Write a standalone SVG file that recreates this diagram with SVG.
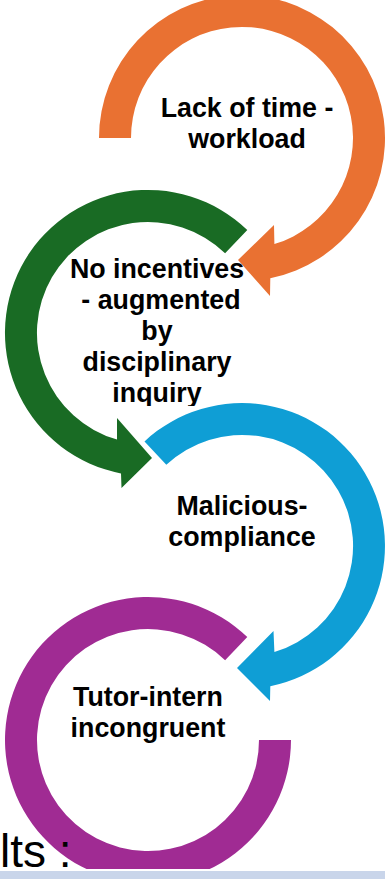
<svg xmlns="http://www.w3.org/2000/svg" width="385" height="879" viewBox="0 0 385 879">
<style>
.lbl{font-family:"Liberation Sans",Arial,sans-serif;font-weight:700;font-size:26.8px;fill:#000;text-anchor:middle}
.foot{font-family:"Liberation Sans",Arial,sans-serif;font-size:46px;fill:#000}
</style>
<defs>
<clipPath id="clipGreen"><rect x="0" y="240" width="300" height="166"/></clipPath>
</defs>
<rect width="385" height="879" fill="#fff"/>
<g id="node-lack-of-time">
<path d="M 99 138 A 143 143 0 1 1 270.3 278.2 L 270 296 L 238 260 L 274 225 L 274.4 244.1 A 111 111 0 1 0 131 138 Z" fill="#E97132"/>
<text class="lbl" x="247" y="117">Lack of time -</text>
<text class="lbl" x="247" y="148">workload</text>
</g>
<g id="node-no-incentives">
<path d="M 247.3 230.1 A 143 143 0 1 0 121 473.4 L 121.5 488 L 152 458 L 117 418 L 117 439.6 A 111 111 0 1 1 225.1 253.2 Z" fill="#196B24"/>
<g clip-path="url(#clipGreen)">
<text class="lbl" x="157" y="278">No incentives</text>
<text class="lbl" x="161" y="309">- augmented</text>
<text class="lbl" x="157" y="340">by</text>
<text class="lbl" x="157" y="371">disciplinary</text>
<text class="lbl" x="157" y="402">inquiry</text>
</g>
</g>
<g id="node-malicious-compliance">
<path d="M 144.5 441.4 A 143 143 0 1 1 270.3 686.2 L 270 701 L 237 668 L 273.5 631 L 274.4 652.1 A 111 111 0 1 0 166.3 464.8 Z" fill="#0F9ED5"/>
<text class="lbl" x="242" y="515">Malicious-</text>
<text class="lbl" x="242" y="546">compliance</text>
</g>
<g id="node-tutor-intern">
<path d="M 247.3 637.1 A 143 143 0 1 0 291 740 L 259 740 A 111 111 0 1 1 225.1 660.2 Z" fill="#A02B93"/>
<text class="lbl" x="148" y="706">Tutor-intern</text>
<text class="lbl" x="148" y="737">incongruent</text>
</g>
<g id="connectors"></g>
<rect x="0" y="869" width="385" height="2" fill="#fff"/>
<rect x="0" y="871" width="385" height="8" fill="#C9D5EA"/>
<text class="foot" x="0" y="867">lts :</text>
</svg>
